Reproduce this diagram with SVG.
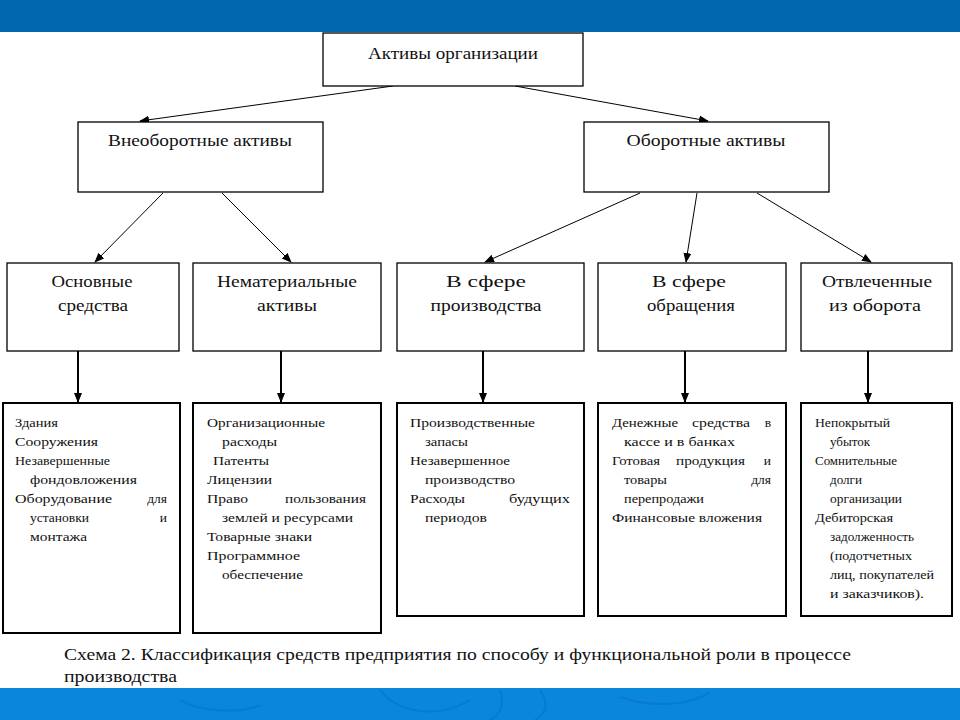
<svg xmlns="http://www.w3.org/2000/svg" width="960" height="720" viewBox="0 0 960 720" font-family="'Liberation Serif', 'DejaVu Serif', serif">
<defs>
<marker id="ah" markerUnits="userSpaceOnUse" markerWidth="10" markerHeight="10" viewBox="0 0 10 10" refX="9" refY="5" orient="auto">
<path d="M0,1 L10,5 L0,9 Z" fill="#000"/>
</marker>
<style>
.box{fill:#fff;stroke:#000;stroke-width:1.3}
.bx2{fill:#fff;stroke:#000;stroke-width:2}
text{font-family:'Liberation Serif','DejaVu Serif',serif;fill:#111}
.h{font-size:16px;text-anchor:middle}
.i{font-size:13.5px}
.e{text-anchor:end}
.c{font-size:17px}
.ln{stroke:#000;stroke-width:1;fill:none}
.lv{stroke:#000;stroke-width:2;fill:none}
</style>
</defs>
<rect width="960" height="720" fill="#fff"/>
<rect x="0" y="0" width="960" height="32" fill="#0066ae"/>
<g id="footer">
<rect x="0" y="688" width="960" height="32" fill="#0a86dc"/>
<g fill="none" stroke="#0775c6" stroke-width="2" opacity="0.6">
<path d="M380,690 C400,715 440,718 470,700"/>
<path d="M500,690 C505,705 500,715 490,720"/>
<path d="M540,690 C550,705 545,715 535,720"/>
<path d="M620,697 C650,708 690,706 710,692"/>
<path d="M180,700 C200,712 240,714 260,705"/>
</g>
</g>

<g id="connectors">
<path class="ln" d="M393,86 L140,121" marker-end="url(#ah)"/>
<path class="ln" d="M515,86 L708,121" marker-end="url(#ah)"/>
<path class="ln" d="M163,193 L95,262" marker-end="url(#ah)"/>
<path class="ln" d="M222,193 L291,262" marker-end="url(#ah)"/>
<path class="ln" d="M640,193 L485,262" marker-end="url(#ah)"/>
<path class="ln" d="M697,193 L686,262" marker-end="url(#ah)"/>
<path class="ln" d="M757,193 L871,262" marker-end="url(#ah)"/>
<path class="lv" d="M78,351 V402" marker-end="url(#ah)"/>
<path class="lv" d="M281,351 V402" marker-end="url(#ah)"/>
<path class="lv" d="M483,351 V402" marker-end="url(#ah)"/>
<path class="lv" d="M685,351 V402" marker-end="url(#ah)"/>
<path class="lv" d="M868,351 V402" marker-end="url(#ah)"/>
</g>

<g id="n-root">
<rect class="box" x="323" y="33" width="260" height="53"/>
<text class="h" x="453" y="59" textLength="170" lengthAdjust="spacingAndGlyphs">Активы организации</text>
</g>
<g id="n-vneob">
<rect class="box" x="78" y="122" width="245" height="70"/>
<text class="h" x="200" y="146" textLength="184" lengthAdjust="spacingAndGlyphs">Внеоборотные активы</text>
</g>
<g id="n-ob">
<rect class="box" x="584" y="122" width="245" height="70"/>
<text class="h" x="706" y="146" textLength="159" lengthAdjust="spacingAndGlyphs">Оборотные активы</text>
</g>

<g id="n-os">
<rect class="box" x="7" y="263" width="172" height="88"/>
<text class="h" x="92" y="287" textLength="81" lengthAdjust="spacingAndGlyphs">Основные</text>
<text class="h" x="93" y="311" textLength="70" lengthAdjust="spacingAndGlyphs">средства</text>
</g>
<g id="n-nem">
<rect class="box" x="193" y="263" width="188" height="88"/>
<text class="h" x="287" y="287" textLength="140" lengthAdjust="spacingAndGlyphs">Нематериальные</text>
<text class="h" x="287" y="311" textLength="60" lengthAdjust="spacingAndGlyphs">активы</text>
</g>
<g id="n-proizv">
<rect class="box" x="397" y="263" width="187" height="88"/>
<text class="h" x="486" y="287" textLength="80" lengthAdjust="spacingAndGlyphs">В сфере</text>
<text class="h" x="486" y="311" textLength="111" lengthAdjust="spacingAndGlyphs">производства</text>
</g>
<g id="n-obr">
<rect class="box" x="598" y="263" width="188" height="88"/>
<text class="h" x="689" y="287" textLength="74" lengthAdjust="spacingAndGlyphs">В сфере</text>
<text class="h" x="691" y="311" textLength="88" lengthAdjust="spacingAndGlyphs">обращения</text>
</g>
<g id="n-otvl">
<rect class="box" x="801" y="263" width="151" height="88"/>
<text class="h" x="877" y="287" textLength="110" lengthAdjust="spacingAndGlyphs">Отвлеченные</text>
<text class="h" x="875" y="311" textLength="92" lengthAdjust="spacingAndGlyphs">из оборота</text>
</g>

<g id="n-list1">
<rect class="bx2" x="3" y="403" width="177" height="230"/>
<text class="i" x="15" y="427" textLength="43" lengthAdjust="spacingAndGlyphs">Здания</text>
<text class="i" x="15" y="446" textLength="83" lengthAdjust="spacingAndGlyphs">Сооружения</text>
<text class="i" x="15" y="465" textLength="95" lengthAdjust="spacingAndGlyphs">Незавершенные</text>
<text class="i" x="30" y="484" textLength="107" lengthAdjust="spacingAndGlyphs">фондовложения</text>
<text class="i" x="15" y="503" textLength="97" lengthAdjust="spacingAndGlyphs">Оборудование</text>
<text class="i e" x="167" y="503">для</text>
<text class="i" x="30" y="522" textLength="59" lengthAdjust="spacingAndGlyphs">установки</text>
<text class="i e" x="167" y="522">и</text>
<text class="i" x="30" y="541" textLength="57" lengthAdjust="spacingAndGlyphs">монтажа</text>
</g>
<g id="n-list2">
<rect class="bx2" x="193" y="403" width="188" height="230"/>
<text class="i" x="207" y="427" textLength="118" lengthAdjust="spacingAndGlyphs">Организационные</text>
<text class="i" x="222" y="446" textLength="55" lengthAdjust="spacingAndGlyphs">расходы</text>
<text class="i" x="213" y="465" textLength="56" lengthAdjust="spacingAndGlyphs">Патенты</text>
<text class="i" x="207" y="484" textLength="65" lengthAdjust="spacingAndGlyphs">Лицензии</text>
<text class="i" x="207" y="503" textLength="41" lengthAdjust="spacingAndGlyphs">Право</text>
<text class="i" x="285" y="503" textLength="81" lengthAdjust="spacingAndGlyphs">пользования</text>
<text class="i" x="222" y="522" textLength="131" lengthAdjust="spacingAndGlyphs">землей и ресурсами</text>
<text class="i" x="207" y="541" textLength="105" lengthAdjust="spacingAndGlyphs">Товарные знаки</text>
<text class="i" x="207" y="560" textLength="93" lengthAdjust="spacingAndGlyphs">Программное</text>
<text class="i" x="222" y="579" textLength="81" lengthAdjust="spacingAndGlyphs">обеспечение</text>
</g>
<g id="n-list3">
<rect class="bx2" x="397" y="403" width="187" height="213"/>
<text class="i" x="410" y="427" textLength="125" lengthAdjust="spacingAndGlyphs">Производственные</text>
<text class="i" x="425" y="446" textLength="43" lengthAdjust="spacingAndGlyphs">запасы</text>
<text class="i" x="410" y="465" textLength="100" lengthAdjust="spacingAndGlyphs">Незавершенное</text>
<text class="i" x="425" y="484" textLength="90" lengthAdjust="spacingAndGlyphs">производство</text>
<text class="i" x="410" y="503" textLength="55" lengthAdjust="spacingAndGlyphs">Расходы</text>
<text class="i" x="509" y="503" textLength="61" lengthAdjust="spacingAndGlyphs">будущих</text>
<text class="i" x="425" y="522" textLength="62" lengthAdjust="spacingAndGlyphs">периодов</text>
</g>
<g id="n-list4">
<rect class="bx2" x="598" y="403" width="188" height="213"/>
<text class="i" x="612" y="427" textLength="66" lengthAdjust="spacingAndGlyphs">Денежные</text>
<text class="i" x="692" y="427" textLength="58" lengthAdjust="spacingAndGlyphs">средства</text>
<text class="i e" x="771" y="427">в</text>
<text class="i" x="624" y="446" textLength="111" lengthAdjust="spacingAndGlyphs">кассе и в банках</text>
<text class="i" x="612" y="465" textLength="48" lengthAdjust="spacingAndGlyphs">Готовая</text>
<text class="i" x="676" y="465" textLength="69" lengthAdjust="spacingAndGlyphs">продукция</text>
<text class="i e" x="771" y="465">и</text>
<text class="i" x="624" y="484" textLength="43" lengthAdjust="spacingAndGlyphs">товары</text>
<text class="i e" x="771" y="484">для</text>
<text class="i" x="624" y="503" textLength="80" lengthAdjust="spacingAndGlyphs">перепродажи</text>
<text class="i" x="612" y="522" textLength="150" lengthAdjust="spacingAndGlyphs">Финансовые вложения</text>
</g>
<g id="n-list5">
<rect class="bx2" x="801" y="403" width="151" height="213"/>
<text class="i" x="815" y="427" textLength="75" lengthAdjust="spacingAndGlyphs">Непокрытый</text>
<text class="i" x="830" y="446" textLength="40" lengthAdjust="spacingAndGlyphs">убыток</text>
<text class="i" x="815" y="465" textLength="82" lengthAdjust="spacingAndGlyphs">Сомнительные</text>
<text class="i" x="830" y="484" textLength="32" lengthAdjust="spacingAndGlyphs">долги</text>
<text class="i" x="830" y="503" textLength="72" lengthAdjust="spacingAndGlyphs">организации</text>
<text class="i" x="815" y="522" textLength="78" lengthAdjust="spacingAndGlyphs">Дебиторская</text>
<text class="i" x="830" y="541" textLength="84" lengthAdjust="spacingAndGlyphs">задолженность</text>
<text class="i" x="830" y="560" textLength="82" lengthAdjust="spacingAndGlyphs">(подотчетных</text>
<text class="i" x="830" y="579" textLength="104" lengthAdjust="spacingAndGlyphs">лиц, покупателей</text>
<text class="i" x="830" y="598" textLength="94" lengthAdjust="spacingAndGlyphs">и заказчиков).</text>
</g>

<g id="caption">
<text class="c" x="64" y="660" textLength="787" lengthAdjust="spacingAndGlyphs">Схема 2. Классификация средств предприятия по способу и функциональной роли в процессе</text>
<text class="c" x="64" y="682" textLength="113" lengthAdjust="spacingAndGlyphs">производства</text>
</g>
</svg>
